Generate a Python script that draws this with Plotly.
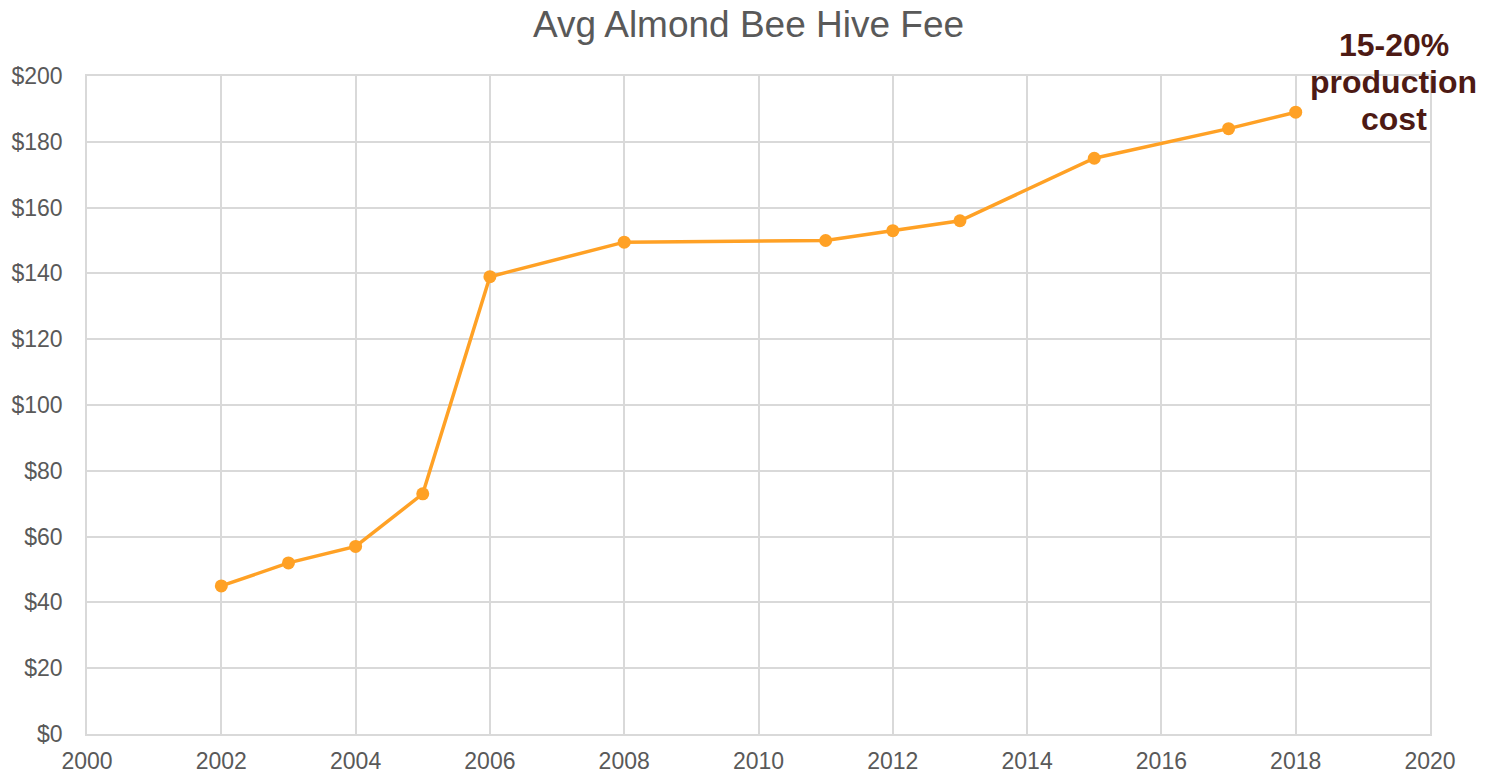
import plotly.graph_objects as go

years = [2002, 2003, 2004, 2005, 2006, 2008, 2011, 2012, 2013, 2015, 2017, 2018]
fees = [45, 52, 57, 73, 139, 149.5, 150, 153, 156, 175, 184, 189]
x_ticks = list(range(2000, 2021, 2))
y_ticks = list(range(0, 201, 20))
y_labels = [f"${v}" for v in y_ticks]
note_lines = ["15-20%", "production", "cost"]

FONT = "Liberation Sans, Arial, sans-serif"

fig = go.Figure()
fig.add_trace(go.Scatter(
    x=years, y=fees, mode="lines+markers",
    line=dict(color="#FFA125", width=3.5),
    marker=dict(color="#FFA125", size=13),
    showlegend=False, cliponaxis=False,
))

for i, line in enumerate(note_lines):
    fig.add_annotation(
        x=2019.46, y=198.2, xref="x", yref="y",
        text=f"<b>{line}</b>",
        showarrow=False, align="center",
        xanchor="center", yanchor="middle", yshift=37 * (1 - i),
        font=dict(family=FONT, size=32, color="#4D1A14"),
    )

fig.update_layout(
    width=1481, height=769,
    paper_bgcolor="white", plot_bgcolor="white",
    margin=dict(l=79, r=59, t=68, b=43),
    title=dict(text="Avg Almond Bee Hive Fee", x=0.5, xanchor="center",
               y=1 - 16 / 769, yanchor="middle",
               font=dict(family=FONT, size=37, color="#595959")),
    font=dict(family=FONT, size=23, color="#595959"),
)
fig.update_xaxes(range=[2000, 2020], tickvals=x_ticks, ticktext=[str(v) for v in x_ticks],
                 showgrid=True, gridcolor="#D9D9D9", gridwidth=1.5,
                 showline=True, linecolor="#D9D9D9", linewidth=1.5, mirror=True,
                 zeroline=False, ticks="", ticklabelstandoff=6, automargin=False,
                 tickfont=dict(family=FONT, size=23, color="#595959"))
fig.update_yaxes(range=[0, 200], tickvals=y_ticks, ticktext=y_labels,
                 showgrid=True, gridcolor="#D9D9D9", gridwidth=1.5,
                 showline=True, linecolor="#D9D9D9", linewidth=1.5, mirror=True,
                 zeroline=False, ticks="", ticklabelstandoff=18, automargin=False,
                 tickfont=dict(family=FONT, size=23, color="#595959"))

fig.write_html("out.html")
